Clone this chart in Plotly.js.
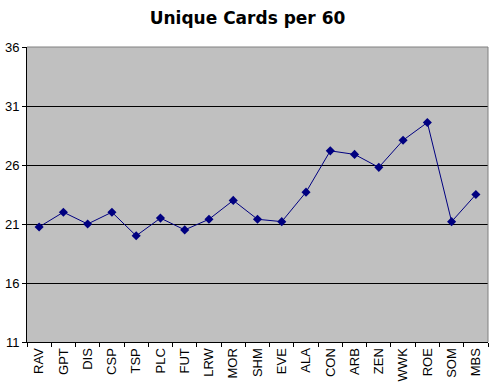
<!DOCTYPE html>
<html>
<head>
<meta charset="utf-8">
<script src="https://cdn.plot.ly/plotly-3.0.1.min.js"></script>
<style>html,body{margin:0;padding:0;background:#fff;}#chart{width:495px;height:391px;}</style>
</head>
<body>
<div id="chart"></div>
<script>
const sets = ["RAV","GPT","DIS","CSP","TSP","PLC","FUT","LRW","MOR","SHM","EVE","ALA","CON","ARB","ZEN","WWK","ROE","SOM","MBS"];
const uniqueCards = [20.75,22.0,21.0,22.0,20.0,21.5,20.5,21.4,23.0,21.4,21.2,23.7,27.2,26.9,25.8,28.1,29.6,21.2,23.5];
const yTicks = [11,16,21,26,31,36];

const trace = {
  x: sets, y: uniqueCards, type: 'scatter', mode: 'lines+markers',
  line: {color: '#000080', width: 1},
  marker: {symbol: 'diamond', size: 7, color: '#000080'},
  hoverinfo: 'none'
};
const layout = {
  width: 495, height: 391,
  margin: {l: 27, r: 7, t: 47, b: 49, pad: 0},
  paper_bgcolor: '#ffffff', plot_bgcolor: '#C0C0C0',
  showlegend: false,
  title: {text: '<b>Unique Cards per 60</b>', x: 0.5, xanchor: 'center', y: 0.955, yanchor: 'middle',
          font: {family: 'DejaVu Sans', size: 17, color: '#000'}},
  xaxis: {
    type: 'category', range: [-0.5, 18.5], tickson: 'boundaries',
    ticks: 'outside', ticklen: 4, tickcolor: '#000', tickwidth: 1,
    tickangle: -90, showgrid: false, zeroline: false,
    showline: true, linecolor: '#000', linewidth: 1,
    tickfont: {family: 'Liberation Sans, Arial', size: 13, color: '#000'}
  },
  yaxis: {
    range: [11, 36], tickvals: yTicks, ticktext: yTicks.map(String),
    ticks: 'outside', ticklen: 4, tickcolor: '#000', tickwidth: 1,
    showgrid: true, gridcolor: '#000', gridwidth: 1, zeroline: false,
    showline: true, linecolor: '#000', linewidth: 1,
    tickfont: {family: 'Liberation Sans, Arial', size: 13, color: '#000'}
  },
  shapes: [
    {type: 'line', xref: 'paper', yref: 'paper', x0: 0, x1: 1, y0: 1, y1: 1, line: {color: '#808080', width: 1}},
    {type: 'line', xref: 'paper', yref: 'paper', x0: 1, x1: 1, y0: 0, y1: 1, line: {color: '#808080', width: 1}}
  ]
};
Plotly.newPlot('chart', [trace], layout, {staticPlot: true, displayModeBar: false});
</script>
</body>
</html>
